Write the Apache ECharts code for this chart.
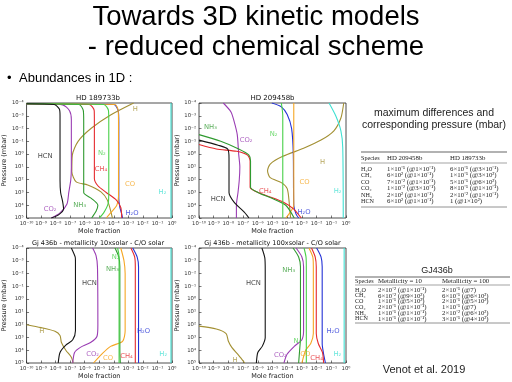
<!DOCTYPE html>
<html><head><meta charset="utf-8">
<script src="https://cdn.jsdelivr.net/npm/echarts/dist/echarts.min.js"></script>
<style>html,body{margin:0;padding:0;background:#fff}#c{width:512px;height:382px}</style>
</head><body><div id="c"></div>
<script>
// ---------- DATA: [mole fraction, pressure (mbar)] ----------
// HD 189733b
const hd189_H   = [[2.3e-3,1e-4],[6e-5,8.7e-4],[2.8e-6,9.5e-3],[3.5e-7,0.1],[1.4e-7,1.2],[1.3e-7,24],[2.6e-7,150],[1.6e-6,260],[1.3e-5,900],[3.6e-5,4e3],[8e-5,1e5]];
const hd189_H2  = [[0.85,1e-4],[0.85,1e5]];
const hd189_H2O = [[1e-10,1.15e-4],[1e-4,1.3e-4],[2e-4,4e-4],[2.2e-4,3e-3],[2.2e-4,3e3],[2.6e-4,1.5e4],[3.5e-4,5e4],[4e-4,1e5]];
const hd189_CO  = [[1e-10,1.15e-4],[1.2e-4,1.3e-4],[2e-4,4e-4],[2.1e-4,3e-3],[2.1e-4,2e3],[1.6e-4,1e4],[6e-5,4e4],[3e-5,1e5]];
const hd189_CO2 = [[1e-10,1.15e-4],[3e-8,1.4e-4],[9e-8,4e-4],[1.2e-7,2e-3],[1.2e-7,10],[1.1e-7,100],[8e-8,1e3],[6e-8,8e3],[2e-8,4e4],[5e-9,1e5]];
const hd189_CH4 = [[1e-10,1.15e-4],[2e-6,1.3e-4],[4.5e-6,4e-4],[4.6e-6,3e-3],[4.6e-6,80],[8e-6,300],[3e-5,1e3],[1.5e-4,4e3],[3e-4,1.5e4],[3.5e-4,1e5]];
const hd189_NH3 = [[1e-10,1.15e-4],[4e-7,1.3e-4],[8e-7,4e-4],[8.5e-7,3e-3],[8.5e-7,1e3],[3e-6,3e3],[8e-6,1e4],[6e-6,3e4],[3e-6,1e5]];
const hd189_N2  = [[1e-10,1.15e-4],[2e-5,1.3e-4],[4.3e-5,4e-4],[4.5e-5,3e-3],[4.5e-5,1e3],[4e-5,8e3],[2e-5,4e4],[1e-5,1e5]];
const hd189_HCN = [[1e-10,1.15e-4],[8e-9,1.3e-4],[1.8e-8,3e-4],[2e-8,1e-3],[2e-8,1e2],[2.2e-8,1e3],[3e-8,5e3],[3.5e-8,2e4],[1.5e-8,6e4],[5e-9,1e5]];
const hd189_labels = [['HCN',1.9e-9,1.6],['CO2',4.2e-9,2e4],['NH3',4.5e-7,1e4],['N2',1.5e-5,0.9],['CH4',1.3e-5,15],['CO',1.3e-3,230],['H2O',1.8e-3,4.4e4],['H',3e-3,3e-4],['H2',0.22,1e3]];

// HD 209458b
const hd209_H   = [[0.7,1e-4],[0.45,1.5e-3],[0.15,1.5e-2],[2e-2,8e-2],[1.3e-3,0.35],[5e-5,1.5],[7e-6,6],[4.6e-6,20],[7e-6,70],[4e-5,170],[1e-4,500],[1.4e-4,8e3],[1.7e-4,1e5]];
const hd209_H2  = [[7e-2,1e-4],[0.2,1e-3],[0.45,1.5e-2],[0.6,0.3],[0.65,1e5]];
const hd209_H2O = [[9e-6,1e-4],[4e-5,2e-4],[1e-4,8e-4],[2e-4,1e-2],[2.6e-4,1],[2.8e-4,1e4],[4e-4,5e4],[6e-4,1e5]];
const hd209_CO  = [[2.8e-4,1e-4],[2.8e-4,1e4],[1.5e-4,4e4],[8e-5,1e5]];
const hd209_CO2 = [[4.5e-9,1e-4],[1.5e-8,5e-4],[2.5e-8,3e-3],[4e-8,3e-2],[5e-8,1],[6e-8,10],[5.5e-8,100],[4.5e-8,1e3],[3.5e-8,1e4],[3.5e-8,1e5]];
const hd209_CH4 = [[1e-10,0.18],[1.5e-9,0.4],[3.6e-8,0.6],[2e-7,1.2],[3e-7,3.5],[3e-7,400],[6.6e-7,800],[4e-6,1.8e3],[6e-5,6e3],[2.8e-4,2e4],[9e-4,1e5]];
const hd209_NH3 = [[1e-10,0.03],[3e-9,0.1],[5e-8,0.4],[2.5e-7,1.2],[3.2e-7,3.5],[3.2e-7,400],[1e-6,1e3],[1e-5,3e3],[8e-5,1e4],[3e-4,1e5]];
const hd209_N2  = [[4e-5,1e-4],[5e-5,1e-3],[5e-5,1e5]];
const hd209_HCN = [[1e-10,0.08],[2e-9,0.2],[9e-9,0.4],[1.1e-8,2],[1.1e-8,1e3],[2.5e-8,6e3],[1.2e-7,3.5e4],[2.5e-7,1e5]];
const hd209_labels = [['NH3',6e-10,8e-3],['CO2',1.6e-7,0.075],['N2',1.2e-5,0.03],['H',2.5e-2,4.3],['CO',1.5e-3,170],['CH4',3.2e-6,850],['HCN',2e-9,3.3e3],['H2O',1.4e-3,3.5e4],['H2',0.27,740]];

// GJ 436b, metallicity 10x solar
const gj10_H   = [[1e-10,100],[1e-9,170],[9e-9,330],[2e-8,700],[2.5e-8,2.5e3],[5e-8,1e4],[1.2e-7,3.5e4],[1.6e-7,1e5]];
const gj10_H2  = [[0.85,1e-4],[0.85,1e5]];
const gj10_H2O = [[2e-3,1e-4],[4e-3,5e-4],[5e-3,3e-3],[5e-3,1e5]];
const gj10_CO  = [[3e-4,1e-4],[5e-4,1e-3],[6e-4,1e-2],[6e-4,300],[4e-4,2e3],[6e-5,5e3],[1.5e-5,2e4],[4e-6,1e5]];
const gj10_CO2 = [[3.5e-6,1e-4],[6e-6,4e-4],[7.5e-6,3e-3],[8e-6,1e2],[7e-6,8e2],[2.5e-6,2.5e3],[5e-7,6e3],[2e-7,1.5e4],[1.5e-7,1e5]];
const gj10_CH4 = [[1.5e-3,1e-4],[2.7e-3,5e-4],[3e-3,3e-3],[3e-3,1e5]];
const gj10_NH3 = [[1.2e-4,1e-4],[2.2e-4,5e-4],[2.6e-4,3e-3],[2.6e-4,1e4],[2.8e-4,1e5]];
const gj10_N2  = [[1.8e-4,1e-4],[2.2e-4,3e-4],[2.3e-4,2e-3],[2.3e-4,1e5]];
const gj10_HCN = [[1.2e-7,1e-4],[2.2e-7,5e-4],[2.3e-7,1e-3],[2.3e-7,300],[1.5e-7,1.5e3],[5e-8,4e3],[2e-8,1.5e4],[1.5e-8,1e5]];
const gj10_labels = [['HCN',2.1e-6,0.054],['NH3',8e-5,5e-3],['N2',1.35e-4,5.5e-4],['H',1.1e-9,340],['H2O',1.1e-2,300],['CO2',3.5e-6,2.1e4],['CO',4e-5,4e4],['CH4',7.4e-4,2.9e4],['H2',0.25,2.1e4]];

// GJ 436b, metallicity 100x solar
const gj100_H   = [[1e-10,130],[1.5e-9,220],[7e-9,500],[1e-8,2e3],[1.7e-8,6e3],[5e-8,2.5e4],[1.3e-7,1e5]];
const gj100_H2  = [[0.75,1e-4],[0.75,1e5]];
const gj100_H2O = [[1e-2,1e-4],[2e-2,5e-4],[2.4e-2,3e-3],[2.4e-2,3e3],[3e-2,2e4],[4e-2,1e5]];
const gj100_CO  = [[3e-3,1e-4],[5.5e-3,5e-4],[6e-3,3e-3],[6e-3,500],[4e-3,3e3],[1.8e-3,1e4],[1e-3,1e5]];
const gj100_CO2 = [[4e-4,1e-4],[1e-3,5e-4],[1.3e-3,3e-3],[1.3e-3,300],[1e-3,1.5e3],[3e-4,5e3],[1e-4,2e4],[6e-5,1e5]];
const gj100_CH4 = [[4.5e-3,1e-4],[8e-3,5e-4],[9.5e-3,3e-3],[9.5e-3,500],[1.3e-2,3e3],[2.5e-2,1.5e4],[3e-2,1e5]];
const gj100_NH3 = [[2.5e-4,1e-4],[6e-4,5e-4],[8e-4,3e-3],[8e-4,1e3],[7e-4,1e4],[6e-4,1e5]];
const gj100_N2  = [[1.4e-3,1e-4],[1.9e-3,5e-4],[2e-3,3e-3],[2e-3,1e5]];
const gj100_HCN = [[1.9e-6,1e-4],[3e-6,6e-4],[3.2e-6,5e-3],[3.2e-6,1e3],[2e-6,5e3],[1e-6,1.5e4],[8e-7,1e5]];
const gj100_labels = [['HCN',5e-7,0.054],['NH3',1.26e-4,5.6e-3],['H2O',0.13,340],['N2',5e-4,2e3],['CO2',3.4e-5,2.4e4],['CO',1.7e-3,2.1e4],['CH4',1e-2,4e4],['H',2.8e-8,6e4],['H2',0.26,2.1e4]];

// Tables
const table1Header = ['Species','HD 209458b','HD 189733b'];
const table1Rows = [
 ['H₂O','1×10⁻¹ (@1×10⁻¹)','6×10⁻¹ (@3×10⁻¹)'],
 ['CH₄','6×10² (@1×10⁻¹)','1×10⁻¹ (@3×10²)'],
 ['CO','7×10⁻² (@1×10⁻¹)','5×10⁻¹ (@6×10²)'],
 ['CO₂','1×10⁻² (@3×10⁻¹)','8×10⁻¹ (@1×10⁻¹)'],
 ['NH₃','2×10² (@1×10⁻¹)','2×10⁻² (@1×10⁻¹)'],
 ['HCN','6×10² (@1×10⁻¹)','1 (@1×10²)']];
const table2Header = ['Species','Metallicity = 10','Metallicity = 100'];
const table2Rows = [
 ['H₂O','2×10⁻² (@1×10⁻¹)','2×10⁻¹ (@7)'],
 ['CH₄','6×10⁻² (@9×10²)','6×10⁻¹ (@6×10²)'],
 ['CO','1×10⁻¹ (@5×10²)','2×10⁻¹ (@5×10²)'],
 ['CO₂','2×10⁻¹ (@1×10⁻¹)','1×10⁻¹ (@7)'],
 ['NH₃','1×10⁻¹ (@1×10⁻¹)','2×10⁻² (@6×10²)'],
 ['HCN','1×10⁻¹ (@1×10⁻¹)','3×10⁻¹ (@4×10²)']];

// ---------- BUILD ----------
const COLORS = {H:'#a39033',H2:'#3ee0d2',H2O:'#2432d6',CO:'#f5a623',CO2:'#9a3db3',CH4:'#e52a2e',NH3:'#2f9a2f',N2:'#48d048',HCN:'#151515'};
const DISP = {H:'H',H2:'H₂',H2O:'H₂O',CO:'CO',CO2:'CO₂',CH4:'CH₄',NH3:'NH₃',N2:'N₂',HCN:'HCN'};
const SPECIES = ['H','H2','H2O','CO','CO2','CH4','NH3','N2','HCN'];
const plots = [
 {title:'HD 189733b', d:{H:hd189_H,H2:hd189_H2,H2O:hd189_H2O,CO:hd189_CO,CO2:hd189_CO2,CH4:hd189_CH4,NH3:hd189_NH3,N2:hd189_N2,HCN:hd189_HCN}, labels:hd189_labels},
 {title:'HD 209458b', d:{H:hd209_H,H2:hd209_H2,H2O:hd209_H2O,CO:hd209_CO,CO2:hd209_CO2,CH4:hd209_CH4,NH3:hd209_NH3,N2:hd209_N2,HCN:hd209_HCN}, labels:hd209_labels},
 {title:'Gj 436b - metallicity 10xsolar - C/O solar', d:{H:gj10_H,H2:gj10_H2,H2O:gj10_H2O,CO:gj10_CO,CO2:gj10_CO2,CH4:gj10_CH4,NH3:gj10_NH3,N2:gj10_N2,HCN:gj10_HCN}, labels:gj10_labels},
 {title:'Gj 436b - metallicity 100xsolar - C/O solar', d:{H:gj100_H,H2:gj100_H2,H2O:gj100_H2O,CO:gj100_CO,CO2:gj100_CO2,CH4:gj100_CH4,NH3:gj100_NH3,N2:gj100_N2,HCN:gj100_HCN}, labels:gj100_labels}
];
const boxes = [[24,103,148,115],[199,103,147,115],[24,248,148,115],[199,248,147,115]];
const SUP = '⁻⁰¹²³⁴⁵⁶⁷⁸⁹';
const sup = s => String(s).replace(/[-0-9]/g, c => SUP['-0123456789'.indexOf(c)]);
const fmt = v => '10' + sup(Math.round(Math.log10(v)));
const TF = 'DejaVu Sans';

const grid=[], xAxis=[], yAxis=[], series=[], graphic=[];
plots.forEach((pl,i)=>{
  const [l,t,w,h] = boxes[i];
  grid.push({left:l,top:t,width:w,height:h,show:true,borderColor:'#222',borderWidth:0.8,containLabel:false});
  const common = {gridIndex:i,type:'log',logBase:10,nameLocation:'middle',interval:1,
    nameTextStyle:{fontSize:6.5,color:'#222',fontFamily:TF},
    axisLine:{show:false}, splitLine:{show:false},
    axisTick:{inside:true,length:2.5,lineStyle:{color:'#222',width:0.6}},
    axisLabel:{fontSize:5.3,color:'#333',margin:3,formatter:fmt,fontFamily:TF,hideOverlap:false,showMinLabel:true,showMaxLabel:true}};
  xAxis.push(Object.assign({},common,{min:1e-10,max:1,splitNumber:10,name:'Mole fraction',nameGap:10}));
  yAxis.push(Object.assign({},common,{min:1e-4,max:1e5,splitNumber:9,inverse:true,name:'Pressure (mbar)',nameGap:15}));
  SPECIES.forEach(sp=>{
    series.push({type:'line',name:sp+i,xAxisIndex:i,yAxisIndex:i,data:pl.d[sp],showSymbol:false,smooth:0.25,
      lineStyle:{color:COLORS[sp],width:1.1},silent:true,animation:false,z:2});
  });
  series.push({type:'scatter',xAxisIndex:i,yAxisIndex:i,symbolSize:0.1,silent:true,animation:false,z:5,
    itemStyle:{color:'transparent'},
    data:pl.labels.map(lb=>({value:[lb[1],lb[2]],label:{show:true,position:'inside',formatter:DISP[lb[0]],
      color:COLORS[lb[0]],fontSize:6.8,fontFamily:TF}}))});
  graphic.push({type:'text',x:l+w/2,y:t-5,style:{text:pl.title,fill:'#111',font:(i<2?'7px ':'6.5px ')+TF,align:'center',verticalAlign:'middle'}});
});

// slide texts
const txt=(s,x,y,font,align,fill)=>({type:'text',x:x,y:y,style:{text:s,font:font,fill:fill||'#000',align:align||'center',verticalAlign:'middle'}});
graphic.push(txt('Towards 3D kinetic models',256,17,'27.5px Liberation Sans'));
graphic.push(txt('- reduced chemical scheme',256,47,'27.5px Liberation Sans'));
graphic.push(txt('•',7,78,'13px Liberation Sans','left'));
graphic.push(txt('Abundances in 1D :',19,78,'13px Liberation Sans','left'));
graphic.push(txt('maximum differences and',434,113,'10.5px Liberation Sans','center','#222'));
graphic.push(txt('corresponding pressure (mbar)',434,125,'10.5px Liberation Sans','center','#222'));
graphic.push(txt('GJ436b',437,271,'9px Liberation Sans','center','#222'));
graphic.push(txt('Venot et al. 2019',424,370,'11px Liberation Sans','center','#222'));
const line=(x1,x2,y,w,c)=>({type:'line',shape:{x1:x1,y1:y,x2:x2,y2:y},style:{stroke:c,lineWidth:w}});
const TFS = '6.8px Liberation Serif';
const TFS0 = '6.1px Liberation Serif';
// table 1
graphic.push(line(361,507,152,1.6,'#999'),line(361,507,163,0.6,'#666'),line(361,507,207,0.8,'#777'));
const t1x=[361,387,450];
table1Header.forEach((s,k)=>graphic.push(txt(s,t1x[k],158,k?TFS:TFS0,'left','#222')));
table1Rows.forEach((r,j)=>r.forEach((s,k)=>graphic.push(txt(s,t1x[k],169+j*6.5,k?TFS:TFS0,'left','#222'))));
// table 2
graphic.push(line(355,510,277,1.6,'#999'),line(355,510,285,0.6,'#666'),line(355,510,323,0.8,'#777'));
const t2x=[355,378,442];
table2Header.forEach((s,k)=>graphic.push(txt(s,t2x[k],281,k?TFS:TFS0,'left','#222')));
table2Rows.forEach((r,j)=>r.forEach((s,k)=>graphic.push(txt(s,t2x[k],290+j*5.75,k?TFS:TFS0,'left','#222'))));

const chart = echarts.init(document.getElementById('c'),null,{renderer:'canvas'});
chart.setOption({animation:false,backgroundColor:'#fff',grid,xAxis,yAxis,series,graphic});
</script></body></html>
